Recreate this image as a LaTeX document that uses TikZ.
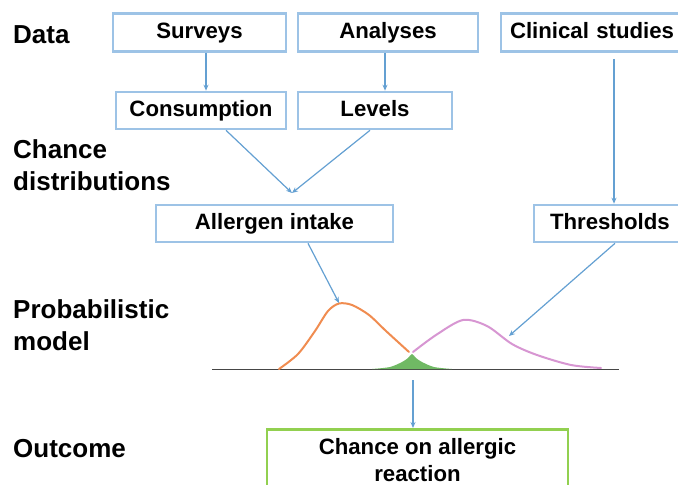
\documentclass[tikz,border=0pt]{standalone}
\usepackage{fontspec}
\setmainfont{Liberation Sans}
\usetikzlibrary{arrows.meta}
\definecolor{boxblue}{RGB}{157,195,230}
\definecolor{arrblue}{RGB}{100,160,210}
\definecolor{curveor}{RGB}{240,140,80}
\definecolor{curvepk}{RGB}{215,150,210}
\definecolor{peakgr}{RGB}{112,185,100}
\definecolor{outgr}{RGB}{146,208,80}
\definecolor{axisgr}{RGB}{70,70,70}
\tikzset{
  box/.style={draw=boxblue, line width=2.6pt, inner sep=0pt, text height=16pt, text depth=4.5pt, font=\fontsize{22.2}{26}\selectfont\bfseries},
  lbl/.style={anchor=base west, inner sep=0pt, align=left, font=\fontsize{26}{32}\selectfont\bfseries},
  arr/.style={draw=arrblue, line width=1.2pt, -{Stealth[length=6pt,width=5pt]}},
}
\begin{document}
\begin{tikzpicture}[x=1pt,y=-1pt]
\useasboundingbox (0,0) rectangle (678,485);
\clip (0,0) rectangle (678,485);
% left labels
\node[lbl] (ldata) at (13,43) {Data};
\node[lbl] (lchance) at (13,190) {Chance\\distributions};
\node[lbl] (lprob) at (13,350) {Probabilistic\\model};
\node[lbl] (lout) at (13,457) {Outcome};
% boxes
\node[box, minimum width=173, minimum height=38] (surv) at (199.5,32.5) {Surveys};
\node[box, minimum width=180, minimum height=38] (anal) at (388,32.5) {Analyses};
\node[box, minimum width=190, minimum height=38, text width=186, align=left] (clin) at (596,32.5) {\hspace*{7pt}Clinical studies};
\node[box, minimum width=170, minimum height=37] (cons) at (201,110.5) {Consumption};
\node[box, minimum width=154, minimum height=37] (lev) at (375,110.5) {Levels};
\node[box, minimum width=237, minimum height=37] (intake) at (274.5,223.5) {Allergen intake};
\node[box, minimum width=160, minimum height=37, text width=156, align=left] (thr) at (614,223.5) {\hspace*{14pt}Thresholds};
\node[draw=outgr, line width=2.6pt, minimum width=301, minimum height=90, anchor=north, inner sep=0pt] (outc) at (417.5,428) {};
\node[anchor=base, align=center, inner sep=0pt, font=\fontsize{22.2}{27}\selectfont\bfseries] (outtxt) at (417.5,481) {Chance on allergic\\reaction};
% coordinates
\coordinate (pkor) at (339,303);
\coordinate (pkpk) at (509,336);
\coordinate (join) at (292,193);
\coordinate (grtop) at (413,380);
% curves
\draw[axisgr, line width=1pt] (212,369) -- (619,369);
\fill[peakgr] plot[smooth] coordinates {(372,369) (390,367) (402,362) (408,358) (412,354) (416,358) (422,362) (434,367) (452,369)} -- cycle;
\draw[curveor, line width=2pt, line cap=round] plot[smooth] coordinates {(279,369) (298,354) (315,331) (328,311) (339,303.5) (352,305) (369,315) (386,331) (409,352)};
\draw[curvepk, line width=2pt, line cap=round] plot[smooth] coordinates {(413,352) (436,335) (463,320) (487,326) (512,344) (537,355) (571,365) (601,368)};
% arrows
\draw[arr] (surv.south -| 206,0) -- (cons.north -| 206,0);
\draw[arr] (anal.south -| 385,0) -- (lev.north -| 385,0);
\draw[arr] (clin.south -| 614,0) ++(0,6) -- (thr.north -| 614,0);
\draw[arr] (cons.south -| 226,0) -- (join);
\draw[arr] (lev.south -| 370,0) -- (join);
\draw[arr] (intake.south -| 308,0) -- (pkor);
\draw[arr] (thr.south -| 615,0) -- (pkpk);
\draw[arr] (grtop) -- (outc.north -| grtop);
\end{tikzpicture}
\end{document}
